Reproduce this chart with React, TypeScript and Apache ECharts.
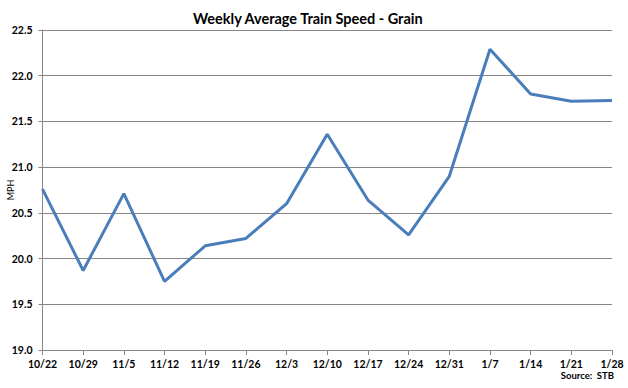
import React, { useEffect, useRef } from "react";
import * as echarts from "echarts";

const categories = ["10/22", "10/29", "11/5", "11/12", "11/19", "11/26", "12/3", "12/10", "12/17", "12/24", "12/31", "1/7", "1/14", "1/21", "1/28"];
const speeds = [20.76, 19.87, 20.71, 19.75, 20.14, 20.22, 20.6, 21.36, 20.64, 20.26, 20.9, 22.29, 21.8, 21.72, 21.73];
const titleText = "Weekly Average Train Speed - Grain";
const yName = "MPH";
const sourceText = "Source:  STB";

export default function App() {
  const ref = useRef<HTMLDivElement>(null);
  useEffect(() => {
    if (!ref.current) return;
    const chart = echarts.init(ref.current, null, { renderer: "svg" });
    const font = "Lato, 'Open Sans', sans-serif";
    chart.setOption({
      animation: false,
      backgroundColor: "#ffffff",
      title: {
        text: titleText,
        left: 188,
        top: 6,
        textStyle: { fontFamily: font, fontSize: 14.5, fontWeight: "bold", color: "#000000" },
      },
      grid: { left: 42.5, right: 16, top: 30, bottom: 38, containLabel: false, outerBoundsMode: "none" },
      xAxis: {
        type: "category",
        data: categories,
        boundaryGap: false,
        axisLine: { lineStyle: { color: "#868686", width: 1 } },
        axisTick: { show: true, length: 5, interval: 0, lineStyle: { color: "#868686" } },
        axisLabel: { interval: 0, fontFamily: font, fontSize: 10.5, fontWeight: "bold", color: "#000000", margin: 8 },
        splitLine: { show: false },
      },
      yAxis: {
        type: "value",
        min: 19,
        max: 22.5,
        interval: 0.5,
        axisLine: { show: true, lineStyle: { color: "#868686", width: 1 } },
        axisTick: { show: true, length: 4, lineStyle: { color: "#868686" } },
        axisLabel: {
          fontFamily: font,
          fontSize: 10.5,
          fontWeight: "bold",
          color: "#000000",
          margin: 10,
          formatter: (v: number) => v.toFixed(1),
        },
        splitLine: { show: true, lineStyle: { color: "#868686", width: 1 } },
      },
      series: [
        {
          type: "line",
          data: speeds,
          showSymbol: false,
          symbol: "none",
          lineStyle: { color: "#4a7ebb", width: 3 },
          itemStyle: { color: "#4a7ebb" },
        },
      ],
      graphic: [
        {
          type: "text",
          x: 10,
          y: 190,
          rotation: Math.PI / 2,
          style: {
            text: yName,
            fontFamily: font,
            fontSize: 9,
            fill: "#000000",
            align: "center",
            verticalAlign: "middle",
          },
        },
        {
          type: "text",
          right: 14,
          top: 370,
          style: { text: sourceText, fontFamily: font, fontSize: 9.5, fontWeight: "bold", fill: "#000000" },
        },
      ],
    });
    return () => chart.dispose();
  }, []);
  return <div ref={ref} style={{ position: "fixed", left: 0, top: 0, width: 628, height: 388 }} />;
}
